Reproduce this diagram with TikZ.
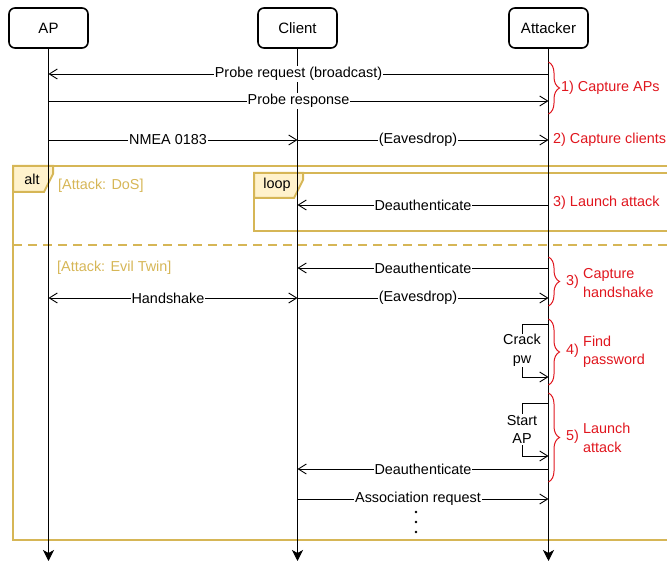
\documentclass[tikz,border=0pt]{standalone}
\usepackage{fontspec}
\setmainfont{Liberation Sans}
\usetikzlibrary{arrows.meta,decorations.pathreplacing}
\definecolor{gold}{HTML}{D6B656}
\definecolor{goldfill}{HTML}{FFF2CC}
\definecolor{anno}{HTML}{E0161E}
\begin{document}
\begin{tikzpicture}[x=1pt,y=-1pt, font=\fontsize{14.4}{18.5}\selectfont,
 head/.style={draw, line width=1.6pt, rounded corners=6pt, minimum width=79pt, minimum height=40pt, inner sep=0pt, font=\fontsize{15}{18}\selectfont},
 life/.style={line width=1pt, -{Stealth[length=11pt,width=11pt,inset=3pt]}},
 msg/.style={line width=0.9pt, -{Straight Barb[length=8pt,width=10pt]}},
 dmsg/.style={line width=0.9pt, {Straight Barb[length=8pt,width=10pt]}-{Straight Barb[length=8pt,width=10pt]}},
 lbl/.style={fill=white, inner sep=1pt},
 frame/.style={draw=gold, line width=2pt},
 tab/.style={draw=gold, fill=goldfill, line width=2pt},
 note/.style={text=anno, anchor=west, inner sep=0pt},
 brc/.style={draw=anno, line width=1pt, decorate, decoration={brace, amplitude=11pt}},
 guard/.style={text=gold, anchor=west, inner sep=0pt}]
\useasboundingbox (0,0) rectangle (667,561);
\clip (0,0) rectangle (667,561);
% frames
\draw[frame] (13,166) rectangle (690,540);
\draw[frame] (254,173) rectangle (690,231);
\draw[draw=gold, line width=2pt, dash pattern=on 9pt off 6pt] (13,245) -- (667,245);
\filldraw[tab] (13,166) -- (53,166) -- (53,174) -- (44,192) -- (13,192) -- cycle;
\node (alt) at (32,179) {alt};
\filldraw[tab] (254,173) -- (303,173) -- (303,180) -- (294,198) -- (254,198) -- cycle;
\node (loop) at (277,185) {loop};
\node[guard] (g1) at (58,186) {[Attack: DoS]};
\node[guard] (g2) at (57,268) {[Attack: Evil Twin]};
% heads
\node[head] (ap) at (48.5,28) {AP};
\node[head] (cl) at (297.5,28) {Client};
\node[head] (at) at (548.5,28) {Attacker};
% lifelines
\draw[life] (ap.south) -- (ap.south |- 0,561);
\draw[life] (cl.south) -- (cl.south |- 0,561);
\draw[life] (at.south) -- (at.south |- 0,561);
% messages
\draw[msg] (at |- 0,74) -- node[lbl]{Probe request (broadcast)} (ap |- 0,74);
\draw[msg] (ap |- 0,101) -- node[lbl]{Probe response} (at |- 0,101);
\draw[msg] (ap |- 0,140) -- node[lbl, pos=0.48]{NMEA 0183} (cl |- 0,140);
\draw[msg] (cl |- 0,140) -- node[lbl, pos=0.48]{(Eavesdrop)} (at |- 0,140);
\draw[msg] (at |- 0,205) -- node[lbl]{Deauthenticate} (cl |- 0,205);
\draw[msg] (at |- 0,268) -- node[lbl]{Deauthenticate} (cl |- 0,268);
\draw[dmsg] (ap |- 0,298) -- node[lbl, pos=0.48]{Handshake} (cl |- 0,298);
\draw[msg] (cl |- 0,298) -- node[lbl, pos=0.48]{(Eavesdrop)} (at |- 0,298);
\draw[msg] (at |- 0,324) -- (522,324) -- node[lbl, align=center]{Crack\\pw} (522,377) -- (at |- 0,377);
\draw[msg] (at |- 0,403) -- (522,403) -- node[lbl, align=center]{Start\\AP} (522,456) -- (at |- 0,456);
\draw[msg] (at |- 0,469) -- node[lbl]{Deauthenticate} (cl |- 0,469);
\draw[msg] (cl |- 0,499) -- node[lbl, pos=0.48]{Association request} (at |- 0,499);
\fill (416,512) circle (1.3pt);
\fill (416,522) circle (1.3pt);
\fill (416,532) circle (1.3pt);
% annotations
\draw[brc] (548.5,62) -- (548.5,114);
\node[note] (n1) at (561,88) {1) Capture APs};
\node[note] (n2) at (553,140) {2) Capture clients};
\node[note] (n3) at (553,203) {3) Launch attack};
\draw[brc] (548.5,257) -- (548.5,306);
\node[note] (n4) at (566,282) {3)};
\node[note, align=left] (n4t) at (583,283) {Capture\\handshake};
\draw[brc] (548.5,319) -- (548.5,385);
\node[note] (n5) at (566,351) {4)};
\node[note, align=left] (n5t) at (583,352) {Find\\password};
\draw[brc] (548.5,393) -- (548.5,482);
\node[note] (n6) at (566,437) {5)};
\node[note, align=left] (n6t) at (583,438) {Launch\\attack};
\end{tikzpicture}
\end{document}
